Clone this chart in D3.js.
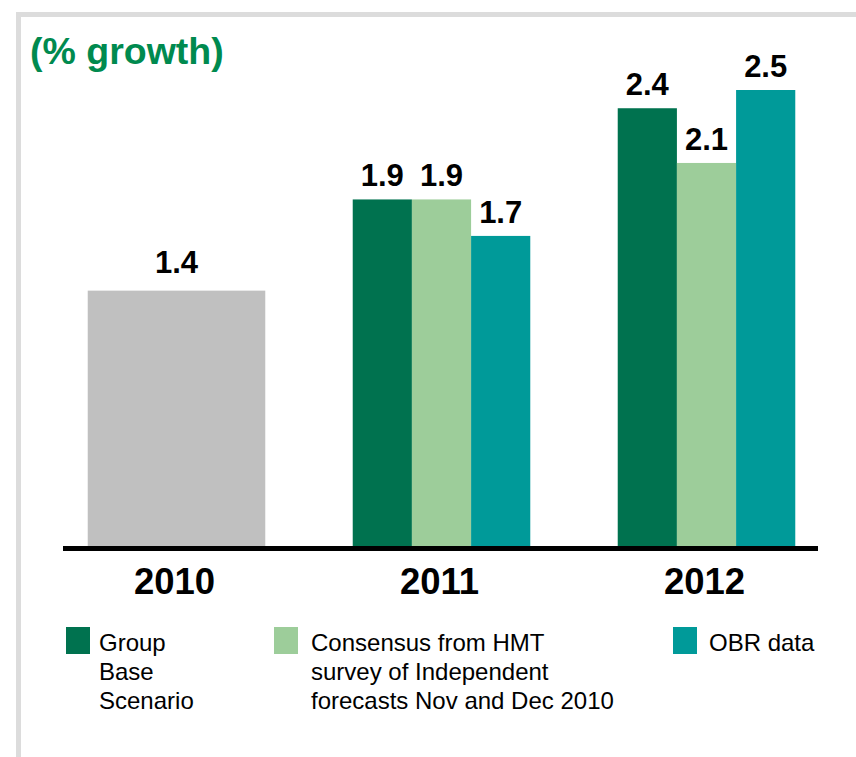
<!DOCTYPE html>
<html>
<head>
<meta charset="utf-8">
<script src="https://cdn.jsdelivr.net/npm/d3@7"></script>
<style>
  html, body { margin: 0; padding: 0; background: #fff; }
  svg { display: block; }
  text { font-family: "Liberation Sans", Arial, Helvetica, sans-serif; }
</style>
</head>
<body>
<svg id="chart" width="856" height="757"></svg>
<script>
// ---- data ----
const categories = ["2010", "2011", "2012"];
const seriesNames = ["Group Base Scenario", "Consensus from HMT survey of Independent forecasts Nov and Dec 2010", "OBR data"];
const actual2010 = [1.4, null, null];
const groupBase = [null, 1.9, 2.4];
const consensus = [null, 1.9, 2.1];
const obrData = [null, 1.7, 2.5];
const legendLines = [["Group", "Base", "Scenario"], ["Consensus from HMT", "survey of Independent", "forecasts Nov and Dec 2010"], ["OBR data"]];
const titleText = "(% growth)";

const colors = ["#00724f", "#9dcd9a", "#009a99"];
const actualColor = "#c0c0c0";

const svg = d3.select("#chart");

// frame (light grey top & left band)
svg.append("rect").attr("x", 16).attr("y", 12).attr("width", 840).attr("height", 5).attr("fill", "#dcdcdc");
svg.append("rect").attr("x", 16).attr("y", 12).attr("width", 5).attr("height", 745).attr("fill", "#dcdcdc");

// title
svg.append("text").attr("x", 30).attr("y", 64)
  .attr("font-size", 37.5).attr("font-weight", "bold").attr("fill", "#008a4f")
  .text(titleText);

// scales
const x0 = d3.scaleBand().domain(categories).range([44, 839]).paddingInner(0.33).paddingOuter(0.165);
const x1 = d3.scaleBand().domain(d3.range(3)).range([0, x0.bandwidth()]).padding(0);
const y = d3.scaleLinear().domain([0, 2.5]).range([546, 90]);

const seriesData = [groupBase, consensus, obrData];
const labelGap = 13;

// 2010 actual bar
categories.forEach((c, i) => {
  if (actual2010[i] == null) return;
  svg.append("rect").attr("x", x0(c)).attr("y", y(actual2010[i]))
    .attr("width", x0.bandwidth()).attr("height", y(0) - y(actual2010[i]))
    .attr("fill", actualColor);
  svg.append("text").attr("x", x0(c) + x0.bandwidth() / 2).attr("y", y(actual2010[i]) - labelGap - 5)
    .attr("text-anchor", "middle").attr("font-size", 31).attr("font-weight", "bold").attr("fill", "#000")
    .text(d3.format(".1f")(actual2010[i]));
});

// grouped bars
seriesData.forEach((arr, s) => {
  categories.forEach((c, i) => {
    const v = arr[i];
    if (v == null) return;
    const bx = x0(c) + x1(s);
    svg.append("rect").attr("x", bx).attr("y", y(v))
      .attr("width", x1.bandwidth()).attr("height", y(0) - y(v))
      .attr("fill", colors[s]);
    svg.append("text").attr("x", bx + x1.bandwidth() / 2).attr("y", y(v) - labelGap)
      .attr("text-anchor", "middle").attr("font-size", 31).attr("font-weight", "bold").attr("fill", "#000")
      .text(d3.format(".1f")(v));
  });
});

// baseline axis
svg.append("line").attr("x1", 63).attr("x2", 818).attr("y1", y(0) + 2.5).attr("y2", y(0) + 2.5)
  .attr("stroke", "#000").attr("stroke-width", 5);

// category labels
svg.selectAll("text.cat").data(categories).enter().append("text")
  .attr("class", "cat")
  .attr("x", d => x0(d) + x0.bandwidth() / 2 - 2)
  .attr("y", 594)
  .attr("text-anchor", "middle").attr("font-size", 36.5).attr("font-weight", "bold").attr("fill", "#000")
  .text(d => d);

// legend
const legendX = [66, 274, 673];
const legendTextX = [99, 311, 709];
legendLines.forEach((lines, i) => {
  svg.append("rect").attr("x", legendX[i]).attr("y", 627).attr("width", 24).attr("height", 27).attr("fill", colors[i]);
  const t = svg.append("text").attr("font-size", 24).attr("fill", "#000");
  lines.forEach((ln, j) => {
    t.append("tspan").attr("x", legendTextX[i]).attr("y", 651 + j * 29).text(ln);
  });
});
</script>
</body>
</html>
